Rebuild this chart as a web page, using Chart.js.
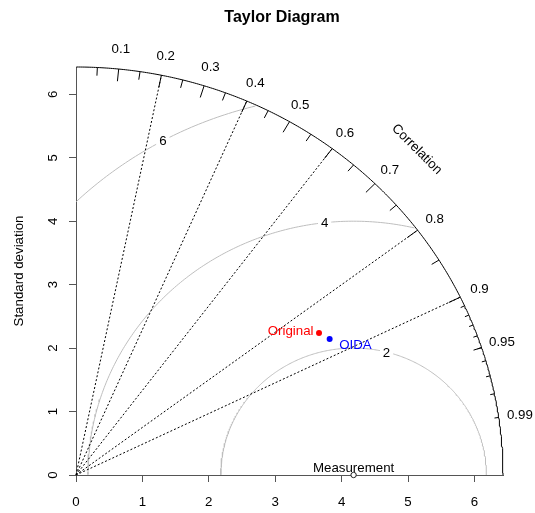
<!DOCTYPE html>
<html><head><meta charset="utf-8">
<script src="https://cdn.jsdelivr.net/npm/chart.js@4.4.1/dist/chart.umd.min.js"></script>
<style>html,body{margin:0;padding:0;background:#fff;}#wrap{width:535px;height:513px;}</style>
</head><body><div id="wrap"><canvas id="c" width="535" height="513"></canvas></div>
<script>
// ---- data ----
const refSD = 4.18;                 // standard deviation of the measurement
const maxSD = 6.43;                 // outer radius of the diagram
const sdTicks = [0, 1, 2, 3, 4, 5, 6];
const corrMajor = [0.1, 0.2, 0.3, 0.4, 0.5, 0.6, 0.7, 0.8, 0.9];
const corrMedium = [0.05, 0.15, 0.25, 0.35, 0.45, 0.55, 0.65, 0.75, 0.85, 0.95];
const corrMinor = [0.91, 0.92, 0.93, 0.94, 0.95, 0.96, 0.97, 0.98, 0.99];
const corrLabelValues = [0.1, 0.2, 0.3, 0.4, 0.5, 0.6, 0.7, 0.8, 0.9, 0.95, 0.99];
const corrLabels = ["0.1", "0.2", "0.3", "0.4", "0.5", "0.6", "0.7", "0.8", "0.9", "0.95", "0.99"];
const corrLines = [0.2, 0.4, 0.6, 0.8, 0.9];
const rmsLevels = [2, 4, 6];
const rmsLabels = ["2", "4", "6"];
const modelNames = ["Original", "OIDA"];
const modelSD = [4.29, 4.38];
const modelCorr = [0.853, 0.872];
const modelColors = ["#ff0000", "#0000ff"];
const refName = "Measurement";

// ---- derived geometry ----
const polar = (r, c) => ({ x: r * c, y: r * Math.sqrt(Math.max(0, 1 - c * c)) });

const arcPts = [];
for (let a = 0; a <= Math.PI / 2 + 1e-9; a += 0.005) arcPts.push({ x: maxSD * Math.cos(a), y: maxSD * Math.sin(a) });

const radialPts = [];
corrLines.forEach(c => { radialPts.push({ x: 0, y: 0 }, polar(maxSD, c), { x: 0, y: null }); });

const tickPts = [];
const addTicks = (vals, k) => vals.forEach(c => { tickPts.push(polar(maxSD, c), polar(maxSD * k, c), { x: 0, y: null }); });
addTicks(corrMajor, 0.97); addTicks(corrMedium, 0.98); addTicks(corrMinor, 0.99);

const rmsSets = rmsLevels.map(g => {
  const pts = [];
  for (let a = 0; a <= Math.PI + 1e-9; a += 0.01) {
    const x = refSD + g * Math.cos(a), y = g * Math.sin(a);
    if (x * x + y * y <= maxSD * maxSD) pts.push({ x, y });
  }
  return { data: pts, showLine: true, borderColor: '#bebebe', borderWidth: 1, pointRadius: 0, clip: 0, order: 5 };
});

const modelPts = modelSD.map((s, i) => polar(s, modelCorr[i]));

const datasets = [
  ...rmsSets,
  { data: radialPts, showLine: true, borderColor: '#000', borderWidth: 1, borderDash: [2, 2], pointRadius: 0, clip: false, spanGaps: false, order: 4 },
  { data: arcPts, showLine: true, borderColor: '#000', borderWidth: 1, pointRadius: 0, clip: false, order: 3 },
  { data: tickPts, showLine: true, borderColor: '#000', borderWidth: 1, pointRadius: 0, clip: false, spanGaps: false, order: 3 },
  { data: [{ x: refSD, y: 0 }], showLine: false, pointRadius: 2.7, pointBackgroundColor: '#fff', pointBorderColor: '#222', pointBorderWidth: 1, clip: false, order: 1 },
  ...modelPts.map((p, i) => ({ data: [p], showLine: false, pointRadius: 3, pointBackgroundColor: modelColors[i], pointBorderColor: modelColors[i], pointBorderWidth: 0, clip: false, order: 1 }))
];

const FONT = '"Liberation Sans", Arial, sans-serif';

const textPlugin = {
  id: 'taylorText',
  afterDatasetsDraw(chart) {
    const ctx = chart.ctx, xs = chart.scales.x, ys = chart.scales.y;
    const X = v => xs.getPixelForValue(v), Y = v => ys.getPixelForValue(v);
    ctx.save();
    ctx.font = '13.3px ' + FONT;
    ctx.fillStyle = '#000';
    ctx.textAlign = 'center';
    ctx.textBaseline = 'alphabetic';

    // RMS contour labels (boxed, white background)
    const labAng = [1.32, 1.68, 2.07];
    rmsLevels.forEach((g, i) => {
      const px = X(refSD + g * Math.cos(labAng[i])), py = Y(g * Math.sin(labAng[i]));
      const w = ctx.measureText(rmsLabels[i]).width + 6;
      ctx.fillStyle = '#fff';
      ctx.fillRect(px - w / 2, py - 7, w, 14);
      ctx.fillStyle = '#000';
      ctx.fillText(rmsLabels[i], px, py + 4.7);
    });

    // correlation labels
    corrLabelValues.forEach((c, i) => {
      const p = polar(maxSD * 1.05, c);
      ctx.fillText(corrLabels[i], X(p.x), Y(p.y) + 4.7);
    });

    // "Correlation"
    ctx.save();
    ctx.translate(X(0.8 * maxSD), Y(0.8 * maxSD));
    ctx.rotate(Math.PI / 4);
    ctx.fillText('Correlation', 0, 4.7);
    ctx.restore();

    // y tick labels (rotated)
    sdTicks.forEach(v => {
      ctx.save();
      ctx.translate(xs.left - 19.5, Y(v));
      ctx.rotate(-Math.PI / 2);
      ctx.fillText(String(v), 0, 0);
      ctx.restore();
    });

    // y axis title
    ctx.save();
    ctx.translate(22.7, (chart.chartArea.top + chart.chartArea.bottom) / 2);
    ctx.rotate(-Math.PI / 2);
    ctx.fillText('Standard deviation', 0, 0);
    ctx.restore();

    // reference label
    ctx.fillText(refName, X(refSD), Y(0) - 2.8);

    // model labels
    ctx.fillStyle = modelColors[0];
    ctx.textAlign = 'right';
    ctx.fillText(modelNames[0], X(modelPts[0].x) - 5.5, Y(modelPts[0].y) + 2);
    ctx.fillStyle = modelColors[1];
    ctx.textAlign = 'left';
    ctx.fillText(modelNames[1], X(modelPts[1].x) + 9.5, Y(modelPts[1].y) + 9.6);

    // title
    ctx.fillStyle = '#000';
    ctx.textAlign = 'center';
    ctx.font = 'bold 16px ' + FONT;
    ctx.fillText('Taylor Diagram', 282, 22);
    ctx.restore();
  }
};

const axisCommon = {
  type: 'linear', min: 0, max: maxSD,
  grid: { display: true, drawOnChartArea: false, drawTicks: true, tickLength: 7, color: '#555', lineWidth: 1 },
  border: { display: true, color: '#555', width: 1 },
  afterBuildTicks: s => { s.ticks = sdTicks.map(v => ({ value: v })); }
};

new Chart(document.getElementById('c'), {
  type: 'scatter',
  data: { datasets },
  options: {
    responsive: false, animation: false, devicePixelRatio: 1,
    layout: { padding: { left: 0, right: 32, top: 67, bottom: 0 } },
    plugins: { legend: { display: false }, tooltip: { enabled: false }, title: { display: false } },
    scales: {
      x: Object.assign({}, axisCommon, {
        position: 'bottom',
        ticks: { includeBounds: false, color: '#000', font: { size: 13.3, family: FONT }, padding: 12, maxRotation: 0 },
        afterFit: s => { s.height = 38; }
      }),
      y: Object.assign({}, axisCommon, {
        position: 'left',
        ticks: { display: false, includeBounds: false },
        afterFit: s => { s.width = 76; }
      })
    }
  },
  plugins: [textPlugin]
});
</script>
</body></html>
